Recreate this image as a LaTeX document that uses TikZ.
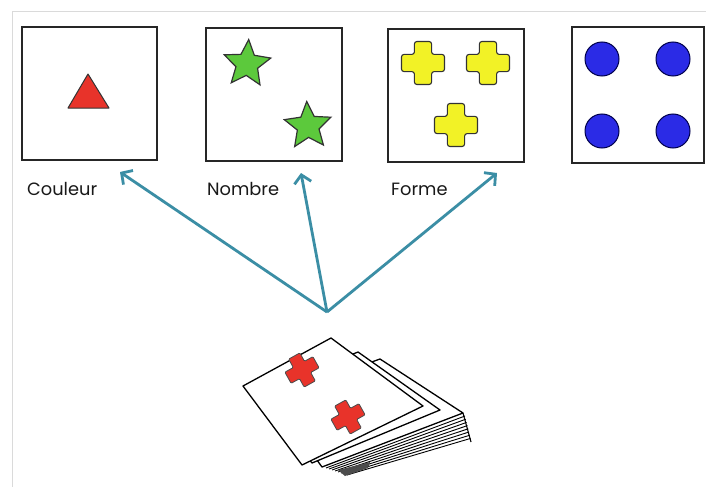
\documentclass[tikz,border=0pt]{standalone}
\usepackage{fontspec}
\setmainfont{Poppins}
\usetikzlibrary{arrows.meta,shapes.geometric}
\definecolor{teal1}{HTML}{3B8EA5}
\definecolor{redf}{HTML}{E8332A}
\definecolor{greenf}{HTML}{5CC93C}
\definecolor{yellowf}{HTML}{F2F226}
\definecolor{bluef}{HTML}{2B2BE6}
\definecolor{framec}{HTML}{DADADA}
\tikzset{
  cardbox/.style={draw=black!85, line width=1.8pt},
  lbl/.style={anchor=base west, inner sep=0pt, font=\fontsize{17.8}{20}\selectfont, text=black!90},
  arr/.style={draw=teal1, line width=2.8pt, -{Straight Barb[length=8pt,width=17pt,line width=2.8pt]}},
  starfig/.style={star, star points=5, star point ratio=2.15, minimum size=49pt, inner sep=0pt, draw=black!80, line width=1.2pt, fill=greenf},
  dot/.style={circle, minimum size=34pt, inner sep=0pt, draw=blue!30!black, line width=1pt, fill=bluef},
  deckcard/.style={draw=black, line width=1.3pt, fill=white, line join=round},
  plus/.pic={
    \path[pic actions] (-0.4,-1) -- (0.4,-1) -- (0.4,-0.4) -- (1,-0.4) -- (1,0.4) -- (0.4,0.4)
      -- (0.4,1) -- (-0.4,1) -- (-0.4,0.4) -- (-1,0.4) -- (-1,-0.4) -- (-0.4,-0.4) -- cycle;
  }
}
\begin{document}
\begin{tikzpicture}[x=1pt,y=-1pt]
\useasboundingbox (0,0) rectangle (706,487);
\fill[white] (0,0) rectangle (706,487);
% frame
\draw[framec, line width=1pt] (706,12) -- (12,12) -- (12,487);

% boxes
\draw[cardbox] (22,27) rectangle (157,160);
\draw[cardbox] (206,28) rectangle (342,161);
\draw[cardbox] (388,29) rectangle (524,162);
\draw[cardbox] (572,27) rectangle (704,163);

% triangle
\draw[fill=redf, draw=black!80, line width=1pt, line join=round] (88,74) -- (109,108) -- (68,108) -- cycle;

% stars
\node[starfig, rotate=-4] (s1) at (247,64) {};
\node[starfig, rotate=3] (s2) at (308,126) {};

% yellow crosses
\pic[fill=yellowf, draw=black!80, line width=1.1pt, rounded corners=2.5pt, scale=21.5] (y1) at (423,63) {plus};
\pic[fill=yellowf, draw=black!80, line width=1.1pt, rounded corners=2.5pt, scale=21.5] (y2) at (488,63) {plus};
\pic[fill=yellowf, draw=black!80, line width=1.1pt, rounded corners=2.5pt, scale=21.5] (y3) at (456,125) {plus};

% blue dots
\node[dot] (d1) at (602,59) {};
\node[dot] (d2) at (673,59) {};
\node[dot] (d3) at (602,131) {};
\node[dot] (d4) at (673,131) {};

% labels
\node[lbl] (l1) at (27,195) {Couleur};
\node[lbl] (l2) at (207,195) {Nombre};
\node[lbl] (l3) at (391,195) {Forme};

% arrows
\coordinate (o) at (327,312);
\coordinate (t1) at (120,172);
\coordinate (t2) at (301,173);
\coordinate (t3) at (497,173);
\draw[arr] (o) -- (t1);
\draw[arr] (o) -- (t2);
\draw[arr] (o) -- (t3);

% deck: stack body
\fill[white] (322,467) -- (463,413) -- (471,440) -- (345,476) -- cycle;
\foreach \i in {0,...,7} {
  \draw[black, line width=0.9pt] (326+3*\i,468+1*\i) -- (465+0.8*\i,416+3.2*\i);
}
\draw[black, line width=1.1pt] (463,413) -- (471,442);
\fill[black!70] (338,470) -- (370,462) -- (368,468) -- (345,476) -- cycle;
% back cards
\draw[deckcard] (272,398) -- (380,359) -- (463,413) -- (322,467) -- cycle;
\draw[deckcard] (258,392) -- (358,352) -- (440,410) -- (312,463) -- cycle;
% top card
\draw[deckcard] (243,386) -- (331,338) -- (423,406) -- (302,465) -- cycle;
% red crosses on card
\pic[fill=redf, draw=black!70, line width=0.8pt, rounded corners=1pt, scale=16, rotate=29] (r1) at (302,370) {plus};
\pic[fill=redf, draw=black!70, line width=0.8pt, rounded corners=1pt, scale=16, rotate=29] (r2) at (348,417) {plus};
\end{tikzpicture}
\end{document}
